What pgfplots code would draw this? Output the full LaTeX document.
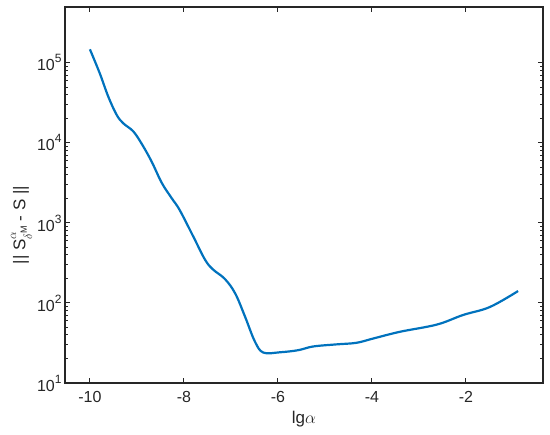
\documentclass[border=0pt]{standalone}
\usepackage{fontspec}
\setmainfont{Liberation Sans}
\usepackage{pgfplots}
\pgfplotsset{compat=1.18}
\definecolor{mblue}{rgb}{0,0.447,0.741}
\definecolor{axgray}{rgb}{0.15,0.15,0.15}
\newcommand{\tenp}[1]{10\raisebox{0.5em}{\fontsize{12bp}{12bp}\selectfont #1}}

\begin{document}
\begin{tikzpicture}
\begin{semilogyaxis}[
  scale only axis, width=478bp, height=376bp,
  xmin=-10.53, xmax=-0.36, ymin=10, ymax=5e5,
  xtick={-10,-8,-6,-4,-2},
  xticklabels={-10,-8,-6,-4,-2},
  ytick={10,100,1000,10000,100000},
  yticklabels={\tenp{1},\tenp{2},\tenp{3},\tenp{4},\tenp{5}},
  tick align=inside, major tick length=5bp, minor tick length=3bp,
  axis line style={axgray, line width=1.1bp},
  every tick/.style={axgray, line width=1bp},
  tick label style={font=\fontsize{16bp}{18bp}\selectfont, text=axgray},
  xticklabel style={yshift=-5bp},
  label style={font=\fontsize{17bp}{20bp}\selectfont, text=axgray},
  xlabel={lg$\alpha$},
  ylabel={|| S\rlap{\raisebox{0.55em}{\fontsize{12bp}{12bp}\selectfont$\alpha$}}\raisebox{-0.4em}{\fontsize{12bp}{12bp}\selectfont$\delta$\raisebox{0.45em}{\fontsize{9bp}{9bp}\selectfont M}} - S ||},
  xlabel style={yshift=-1bp},
  ylabel style={at={(ticklabel cs:0.42)}, yshift=-2bp},
]
\addplot[mblue, line width=2.2bp, smooth, tension=0.6] coordinates {
(-10.0,147900) (-9.79,74100) (-9.61,38000) (-9.43,22400) (-9.29,17600)
(-9.08,14000) (-8.90,9800) (-8.69,5900) (-8.47,3160) (-8.26,2040)
(-8.09,1450) (-7.80,676) (-7.55,347) (-7.38,262) (-7.13,200)
(-6.91,132) (-6.70,67.6) (-6.49,33) (-6.31,24) (-5.96,24.2) (-5.57,25.7)
(-5.25,28.6) (-4.75,30.4) (-4.33,31.8) (-3.97,36.0) (-3.40,43.7) (-2.62,53.7)
(-2.06,70.8) (-1.49,89.1) (-0.89,141)
};
\end{semilogyaxis}
\path[use as bounding box] (-65bp,-52bp) rectangle (485bp,383bp);
\end{tikzpicture}
\end{document}
